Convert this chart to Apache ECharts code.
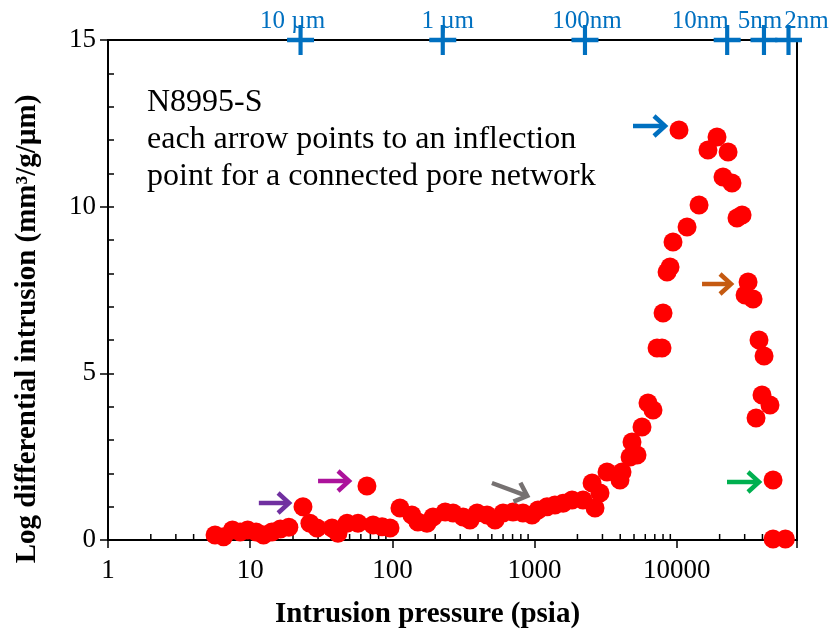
<!DOCTYPE html>
<html>
<head>
<meta charset="utf-8">
<script src="https://cdn.jsdelivr.net/npm/echarts@6/dist/echarts.min.js"></script>
<style>
  html, body { margin: 0; padding: 0; background: #ffffff; }
  #chart { width: 836px; height: 638px; }
</style>
</head>
<body>
<div id="chart"></div>
<script>
// Mercury intrusion porosimetry, sample N8995-S
const pressurePsia = [
  5.66, 6.5, 7.5, 8.5, 9.6, 11.0, 12.4, 14.2, 16.3, 18.7,
  23.5, 26.3, 29.5, 37.6, 41.4, 48.0, 57.3, 66.2, 73.1, 84.6,
  96.2, 113, 137, 151, 175, 193, 235, 267, 314, 351,
  394, 463, 527, 600, 705, 828, 959, 1057, 1223, 1390,
  1585, 1834, 2190, 2535, 2660, 2884, 3230, 3984, 4118, 4690,
  4840, 5250, 5690, 6270, 6800, 7260, 7870, 8000, 8540, 8960,
  9400, 10360, 11800, 14330, 16560, 19170, 21120, 22930, 24430, 26490,
  28770, 30200, 31700, 34360, 36060, 37840, 39720, 41060, 45200, 47500,
  47500, 58000
];
const logDiffIntrusion = [
  0.15, 0.1, 0.3, 0.24, 0.3, 0.24, 0.15, 0.24, 0.33, 0.38,
  1.0, 0.5, 0.36, 0.36, 0.2, 0.5, 0.5, 1.62, 0.45, 0.4,
  0.36, 0.96, 0.75, 0.54, 0.5, 0.69, 0.84, 0.81, 0.69, 0.6,
  0.81, 0.75, 0.6, 0.81, 0.84, 0.81, 0.75, 0.9, 1.0, 1.05,
  1.1, 1.2, 1.2, 1.71, 0.96, 1.41, 2.04, 1.8, 2.04, 2.49,
  2.94, 2.55, 3.39, 4.11, 3.9, 5.76, 5.76, 6.81, 8.04, 8.19,
  8.94, 12.3, 9.39, 10.05, 11.7, 12.09, 10.89, 11.64, 10.71, 9.66,
  9.75, 7.35, 7.74, 7.23, 3.66, 6.0, 4.35, 5.52, 4.05, 1.8,
  0.03, 0.03
];

// Pore throat sizes marked along the top edge, at their equivalent pressures
const poreSizeLabels = ['10 µm', '1 µm', '100nm', '10nm', '5nm', '2nm'];
const poreSizePressure = [22.6, 226, 2260, 22600, 41000, 61000];
const poreSizeLevel = 15;

// Inflection arrows (tail -> head), pressure / intrusion
const arrowTailPressure = [11.5, 30.0, 501, 4920, 15040, 22540];
const arrowTailValue = [1.11, 1.77, 1.71, 12.42, 7.68, 1.74];
const arrowHeadPressure = [19.7, 52.0, 929, 8670, 25250, 39720];
const arrowHeadValue = [1.11, 1.77, 1.29, 12.42, 7.68, 1.74];

const yTicks = [0, 5, 10, 15];
const xMin = 1, xMax = 70000;

// ---- styling ----
const FONT = "'Liberation Serif', 'Times New Roman', serif";
const arrowColors = ['#7030A0', '#AC129B', '#767171', '#0070C0', '#C55A11', '#00B050'];
const poreLabelOffsetX = [-8, 5, 2, -27, -4, 18];

// minor tick positions (2..9 within each decade) for the log axis
const xMinorTicks = [];
for (let d = 1; d <= 10000; d *= 10) {
  for (let k = 2; k <= 9; k++) {
    if (k * d < xMax) xMinorTicks.push(k * d);
  }
}

const chart = echarts.init(document.getElementById('chart'), null, { renderer: 'canvas' });

const plusPath = 'path://M11,0h4v11h11v4h-11v11h-4v-11h-11v-4h11z';

const option = {
  backgroundColor: '#ffffff',
  animation: false,
  textStyle: { fontFamily: FONT },
  title: {
    text: 'N8995-S\neach arrow points to an inflection\npoint for a connected pore network',
    left: 142,
    top: 79,
    textStyle: { fontFamily: FONT, fontSize: 32, fontWeight: 'normal', color: '#000', lineHeight: 37 }
  },
  grid: {
    left: 108, right: 39, top: 40, bottom: 98,
    show: true, borderColor: '#000', borderWidth: 2, backgroundColor: 'transparent',
    outerBoundsMode: 'none'
  },
  xAxis: [{
    type: 'log',
    logBase: 10,
    min: xMin,
    max: xMax,
    name: 'Intrusion pressure (psia)',
    nameLocation: 'middle',
    nameGap: 60,
    nameTextStyle: { fontFamily: FONT, fontSize: 29, fontWeight: 'bold', color: '#000', padding: [0, 50, 0, 0] },
    axisLine: { show: true, onZero: false, lineStyle: { color: '#000', width: 2 } },
    axisTick: { show: true, inside: false, length: 8, lineStyle: { color: '#000', width: 1.5 } },
    axisLabel: {
      fontFamily: FONT, fontSize: 27, color: '#000', margin: 17,
      formatter: function (v) {
        const e = Math.log10(v);
        if (Math.abs(e - Math.round(e)) > 1e-6) return '';
        return String(Math.round(v));
      }
    },
    splitLine: { show: false },
    minorTick: { show: false }
  }],
  yAxis: [{
    type: 'value',
    min: 0,
    max: 15,
    interval: 5,
    name: 'Log differential intrusion (mm³/g/µm)',
    nameLocation: 'middle',
    nameGap: 66,
    nameTextStyle: { fontFamily: FONT, fontSize: 29, fontWeight: 'bold', color: '#000', padding: [0, 78, 0, 0] },
    axisLine: { show: true, lineStyle: { color: '#000', width: 2 } },
    axisTick: { show: true, inside: false, length: 8, lineStyle: { color: '#000', width: 1.5 } },
    axisLabel: { fontFamily: FONT, fontSize: 27, color: '#000', margin: 12 },
    splitLine: { show: false }
  }, {
    // inner minor ticks on the value axis
    type: 'value',
    position: 'left',
    min: 0,
    max: 15,
    interval: 1,
    axisLine: { show: false },
    axisTick: { show: true, inside: true, length: 6, lineStyle: { color: '#000', width: 1.5 } },
    axisLabel: { show: false },
    splitLine: { show: false }
  }],
  series: [
    {
      name: 'Log differential intrusion',
      type: 'scatter',
      data: pressurePsia.map((p, i) => [p, logDiffIntrusion[i]]),
      symbol: 'circle',
      symbolSize: 19,
      itemStyle: { color: '#FF0000', opacity: 1 },
      z: 3
    },
    {
      name: 'minor ticks',
      type: 'scatter',
      silent: true,
      clip: false,
      data: xMinorTicks.map(v => [v, 0]),
      symbol: 'rect',
      symbolSize: [1.5, 6],
      symbolOffset: [0, -3],
      itemStyle: { color: '#000', opacity: 1 },
      z: 2
    },
    {
      name: 'Pore size',
      type: 'scatter',
      clip: false,
      silent: true,
      data: poreSizePressure.map((p, i) => ({
        value: [p, poreSizeLevel],
        label: {
          show: true,
          formatter: poreSizeLabels[i],
          position: 'inside',
          offset: [poreLabelOffsetX[i], -19],
          fontFamily: FONT, fontSize: 25, color: '#0070C0'
        }
      })),
      symbol: plusPath,
      symbolSize: [27, 30],
      itemStyle: { color: '#0070C0', opacity: 1 },
      z: 5
    },
    {
      name: 'Inflection arrows',
      type: 'custom',
      silent: true,
      clip: false,
      data: arrowTailPressure.map((p, i) => [p, arrowTailValue[i], arrowHeadPressure[i], arrowHeadValue[i]]),
      encode: { x: [0, 2], y: [1, 3] },
      renderItem: function (params, api) {
        const p0 = api.coord([api.value(0), api.value(1)]);
        const tip = api.coord([api.value(2), api.value(3)]);
        const dx = tip[0] - p0[0], dy = tip[1] - p0[1];
        const len = Math.hypot(dx, dy);
        const ux = dx / len, uy = dy / len;
        const nx = -uy, ny = ux;
        const p1 = [tip[0] - ux * 3, tip[1] - uy * 3];
        const back = 11, half = 10;
        const a = [p1[0] - ux * back + nx * half, p1[1] - uy * back + ny * half];
        const b = [p1[0] - ux * back - nx * half, p1[1] - uy * back - ny * half];
        const color = arrowColors[params.dataIndex];
        return {
          type: 'group',
          children: [
            { type: 'line', shape: { x1: p0[0], y1: p0[1], x2: p1[0] - ux * 2, y2: p1[1] - uy * 2 },
              style: { stroke: color, lineWidth: 4.5, lineCap: 'butt' } },
            { type: 'polyline', shape: { points: [a, p1, b] },
              style: { stroke: color, lineWidth: 4.5, fill: null, lineJoin: 'miter', lineCap: 'butt' } }
          ]
        };
      },
      z: 4
    }
  ]
};

chart.setOption(option);
</script>
</body>
</html>
